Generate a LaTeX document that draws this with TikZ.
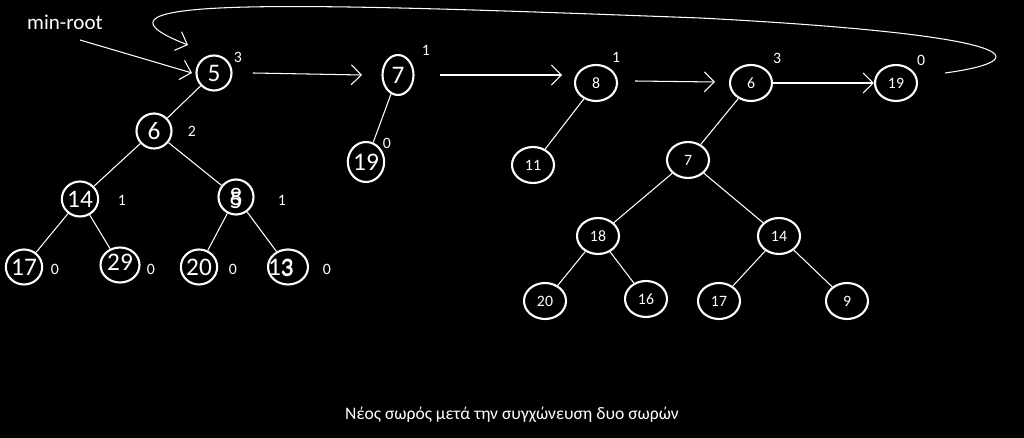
\documentclass[tikz,border=0pt]{standalone}
\usepackage{fontspec}
\setmainfont{Carlito}
\usetikzlibrary{arrows.meta, shapes.geometric}
\tikzset{
    key/.style={draw=white, very thick, ellipse, minimum width=0.7cm, minimum height=0.7cm, inner sep=0pt, text=white, font=\Large},
    smallkey/.style={key, minimum width=0.84cm, minimum height=0.72cm, font=\small},
    deg/.style={text=white, font=\small},
    link/.style={-{Straight Barb[length=2mm]}, white, semithick},
    edge/.style={white, semithick}
}
\begin{document}
\begin{tikzpicture}[x=0.02cm, y=-0.02cm]
        \useasboundingbox (0, 0) rectangle (1024, 438);
        \fill[black] (0, 0) rectangle (1024, 438);

        % first tree
        \node[key] (a5) at (214, 73) {5};
        \node[key] (a6) at (154, 131) {6};
        \node[key] (a14) at (80, 199) {14};
        \node[key] (a8) at (236, 197) {8};
        \node at (236, 200) [text=white, font=\Large] {5};
        \node[key] (a17) at (24, 267) {17};
        \node[key, minimum width=0.78cm] (a29) at (120, 265) {\raisebox{3pt}{29}};
        \node[key] (a20) at (199, 267) {20};
        \node[key, minimum width=0.8cm] (a13) at (288, 267) {\hspace*{-8pt}13};
        \node at (287, 268) [text=white, font=\Large] {3};

        \draw[edge] (a5) -- (a6);
        \draw[edge] (a6) -- (a14);
        \draw[edge] (a6) -- (a8);
        \draw[edge] (a14) -- (a17);
        \draw[edge] (a14) -- (a29);
        \draw[edge] (a8) -- (a20);
        \draw[edge] (a8) -- (a13);

        \node[deg] at (238, 57) {3};
        \node[deg] at (192, 131) {2};
        \node[deg] at (122, 200) {1};
        \node[deg] at (282, 200) {1};
        \foreach \x in {55, 151, 233, 327} {
            \node[deg] at (\x, 269) {0};
        }

        % second tree
        \node[key, minimum width=0.62cm, minimum height=0.8cm] (b7) at (398, 75) {7};
        \node[key, minimum width=0.62cm, minimum height=0.8cm] (b19) at (366, 162) {19};
        \draw[edge] (b7) -- (b19);
        \node[deg] at (426, 50) {1};
        \node[deg] at (387, 143) {0};

        % third tree
        \node[smallkey] (c8) at (596, 83) {8};
        \node[smallkey] (c11) at (533, 165) {11};
        \draw[edge] (c8) -- (c11);
        \node[deg] at (616, 57) {1};

        % fourth tree
        \node[smallkey] (d6) at (751, 83) {6};
        \node[smallkey] (d7) at (688, 160) {7};
        \node[smallkey] (d18) at (598, 236) {18};
        \node[smallkey] (d14) at (779, 236) {14};
        \node[smallkey] (d20) at (545, 301) {20};
        \node[smallkey] (d16) at (646, 299) {16};
        \node[smallkey] (d17) at (719, 301) {17};
        \node[smallkey] (d9) at (847, 301) {9};
        \draw[edge] (d6) -- (d7);
        \draw[edge] (d7) -- (d18);
        \draw[edge] (d7) -- (d14);
        \draw[edge] (d18) -- (d20);
        \draw[edge] (d18) -- (d16);
        \draw[edge] (d14) -- (d17);
        \draw[edge] (d14) -- (d9);
        \node[deg] at (777, 58) {3};

        % last tree
        \node[smallkey] (e19) at (896, 83) {19};
        \node[deg] at (921, 60) {0};

        % root list
        \coordinate (s1) at (253, 73);
        \coordinate (t1) at (362, 75);
        \coordinate (s2) at (440, 75);
        \coordinate (t2) at (562, 75);
        \coordinate (s3) at (635, 81);
        \coordinate (t3) at (715, 82);
        \draw[link] (s1) -- (t1);
        \draw[link] (s2) -- (t2);
        \draw[link] (s3) -- (t3);
        \draw[link] (d6) -- (e19);

        \node[text=white, font=\large] (minroot) at (65, 22) {min-root};
        \coordinate (m0) at (80, 40);
        \coordinate (m1) at (192, 73);
        \draw[link] (m0) -- (m1);

        \coordinate (w0) at (945, 73);
        \coordinate (w1) at (188, 45);
        \draw[link] (w0) .. controls (1040, 60) and (1025, 35) .. (700, 18)
            .. controls (300, 3) and (60, -5) .. (w1);

        \node[text=white, font=\normalsize] (caption) at (512, 415) {Νέος σωρός μετά την συγχώνευση δυο σωρών};
\end{tikzpicture}
\end{document}
